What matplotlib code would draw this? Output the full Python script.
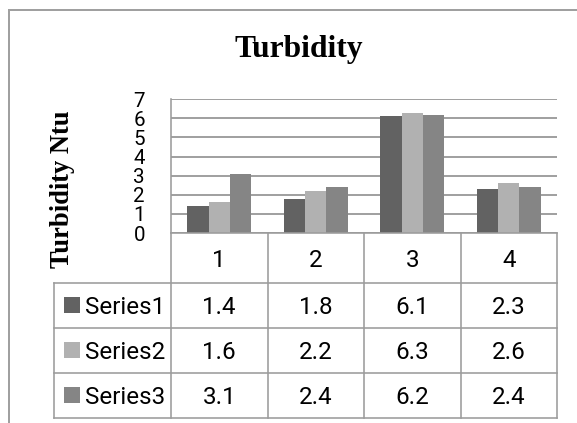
import matplotlib
matplotlib.use("Agg")
import matplotlib.pyplot as plt
from matplotlib.patches import Rectangle
import numpy as np

# ---- data ----
categories = ["1", "2", "3", "4"]
series_names = ["Series1", "Series2", "Series3"]
series1 = [1.4, 1.8, 6.1, 2.3]
series2 = [1.6, 2.2, 6.3, 2.6]
series3 = [3.1, 2.4, 6.2, 2.4]
yticks = [0, 1, 2, 3, 4, 5, 6, 7]
title = "Turbidity"
ylabel = "Turbidity Ntu"

series_values = [series1, series2, series3]
colors = ["#626262", "#b1b1b1", "#858585"]

W, H = 577, 423
DPI = 100
fig = plt.figure(figsize=(W / DPI, H / DPI), dpi=DPI)
fig.patch.set_facecolor("white")

def fx(px):
    return px / W

def fy(py):
    return (H - py) / H

SANS = ["Roboto", "DejaVu Sans"]
SERIF = ["Liberation Serif", "DejaVu Serif"]
PT = 72.0 / DPI  # px -> pt

# layout in px
ax_left, ax_right = 171, 557
ax_top, ax_bottom = 99.3, 233
tab_left, tab_bottom = 54, 418
cat_row_h = 50
row_h = 45
line_col = "#9c9c9c"
grid_col = "#8a8a8a"

# outer chart border
fig.add_artist(Rectangle((fx(9), fy(H + 20)), fx(W + 50), (H + 20 - 10) / H,
                         transform=fig.transFigure, fill=False,
                         edgecolor="#a0a0a0", linewidth=2 * PT))

# ---- main plot axes ----
ax = fig.add_axes([fx(ax_left), fy(ax_bottom), fx(ax_right - ax_left),
                   (ax_bottom - ax_top) / H])
n = len(categories)
x = np.arange(n)
bw = 1 / 4.5
for i, (vals, c) in enumerate(zip(series_values, colors)):
    ax.bar(x + (i - 1) * bw, vals, width=bw, color=c, edgecolor="none",
           zorder=3)
ax.set_xlim(-0.5, n - 0.5)
ax.set_ylim(yticks[0], yticks[-1])
ax.set_yticks(yticks)
ax.set_yticklabels([str(t) for t in yticks], family=SANS, fontsize=20.5 * PT)
ax.set_xticks([])
ax.tick_params(axis="y", length=0, pad=26 * PT)
ax.grid(axis="y", color=grid_col, linewidth=1.6 * PT, zorder=0)
for s in ["top", "right", "bottom"]:
    ax.spines[s].set_visible(False)
ax.spines["left"].set_color(line_col)
ax.spines["left"].set_linewidth(1.6 * PT)
ax.patch.set_alpha(0)

# ---- data table axes ----
tab = fig.add_axes([fx(tab_left), fy(tab_bottom), fx(ax_right - tab_left),
                    (tab_bottom - ax_bottom) / H])
legend_w = (ax_left - tab_left) / ((ax_right - ax_left) / n)
tab.set_xlim(-0.5 - legend_w, n - 0.5)
total_h = cat_row_h + row_h * len(series_names)
tab.set_ylim(total_h, 0)
tab.axis("off")

lw = 1.6 * PT
tab.plot([-0.5, n - 0.5], [0, 0], color=line_col, lw=lw, clip_on=False)
for r in range(len(series_names) + 1):
    yy = cat_row_h + r * row_h
    tab.plot([-0.5 - legend_w, n - 0.5], [yy, yy], color=line_col, lw=lw,
             clip_on=False)
tab.plot([-0.5 - legend_w] * 2, [cat_row_h, total_h], color=line_col, lw=lw,
         clip_on=False)
for k in range(n + 1):
    tab.plot([k - 0.5] * 2, [0, total_h], color=line_col, lw=lw,
             clip_on=False)

# fit table font so "Series1" ~80 px wide
fig.canvas.draw()
rend = fig.canvas.get_renderer()
probe = fig.text(0, 0, "Series1", family=SANS, fontsize=10)
wpx = probe.get_window_extent(rend).width
probe.remove()
fs = 10 * 80 / wpx
fs_px = fs / PT
digit_half = 0.355 * fs_px

for k, c in enumerate(categories):
    tab.text(k, cat_row_h / 2 + digit_half, c, ha="center", va="baseline",
             family=SANS, fontsize=fs, color="black")

unit = (ax_right - ax_left) / n
for r, (name, vals, col) in enumerate(zip(series_names, series_values, colors)):
    yc = cat_row_h + r * row_h + row_h / 2
    kx = -0.5 - (ax_left - 72.3) / unit
    tab.plot([kx], [yc - 1], marker="s", markersize=16 * PT, color=col,
             markeredgewidth=0, clip_on=False)
    tx = -0.5 - (ax_left - 85) / unit
    tab.text(tx, yc + digit_half, name, ha="left", va="baseline",
             family=SANS, fontsize=fs, color="black")
    for k, v in enumerate(vals):
        tab.text(k, yc + digit_half, f"{v:g}", ha="center", va="baseline",
                 family=SANS, fontsize=fs, color="black")

# ---- titles ----
fig.text(fx(298.5), fy(57), title, ha="center", va="baseline",
         family=SERIF, fontweight="bold", fontsize=31.5 * PT)
fig.text(fx(62.5), fy(189), ylabel, ha="center", va="center", rotation=90,
         family=SERIF, fontweight="bold", fontsize=26.5 * PT)

fig.savefig("out.png", dpi=DPI, facecolor="white")
